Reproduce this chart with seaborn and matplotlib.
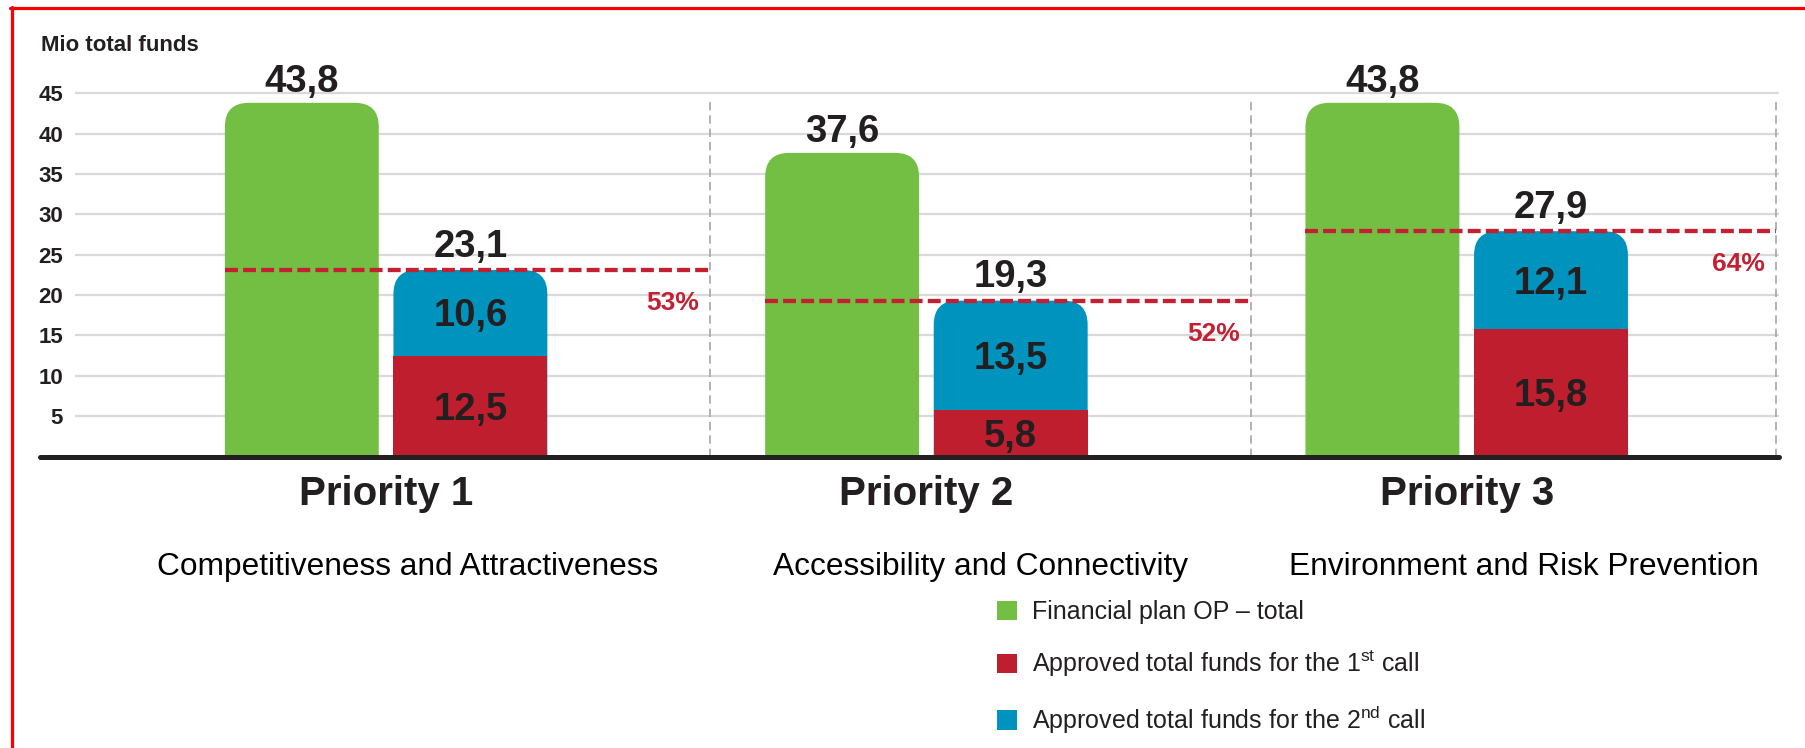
import matplotlib
matplotlib.use("Agg")
import numpy as np
import pandas as pd
import matplotlib.pyplot as plt
import seaborn as sns
from matplotlib.patches import FancyBboxPatch, Patch
from matplotlib.lines import Line2D
from matplotlib import font_manager as fm

# ---------------- data ----------------
PRIORITIES = ["Priority 1", "Priority 2", "Priority 3"]
SUBTITLES = ["Competitiveness and Attractiveness",
             "Accessibility and Connectivity",
             "Environment and Risk Prevention"]
PLAN_TOTAL = [43.8, 37.6, 43.8]
FIRST_CALL = [12.5, 5.8, 15.8]
SECOND_CALL = [10.6, 13.5, 12.1]
APPROVED_TOTAL = [23.1, 19.3, 27.9]
SHARE_LABELS = ["53%", "52%", "64%"]
Y_TICKS = [5, 10, 15, 20, 25, 30, 35, 40, 45]
Y_LABEL = "Mio total funds"
LEGEND_LABELS = ["Financial plan OP \u2013 total",
                 "Approved total funds for the 1$^{\\mathrm{st}}$ call",
                 "Approved total funds for the 2$^{\\mathrm{nd}}$ call"]

# ---------------- style ----------------
GREEN = "#72BF44"
RED = "#BE1E2D"
BLUE = "#0093BD"
TXT = "#231F20"
DASH_RED = "#C42032"
GRID = "#D9D9D9"
SEP = "#A6A6A6"

names = {f.name for f in fm.fontManager.ttflist}
if "Liberation Sans Narrow" in names:
    NARROW, NS = "Liberation Sans Narrow", 1.0
else:
    NARROW, NS = "Liberation Sans", 0.82
WIDE = "Liberation Sans" if "Liberation Sans" in names else "DejaVu Sans"

sns.set_theme(style="white")
plt.rcParams["font.family"] = [WIDE, "DejaVu Sans"]
plt.rcParams["mathtext.fontset"] = "custom"
plt.rcParams["mathtext.rm"] = NARROW
plt.rcParams["mathtext.it"] = NARROW
plt.rcParams["mathtext.bf"] = NARROW

W, H = 1805, 748
fig = plt.figure(figsize=(W / 100, H / 100), dpi=100)
fig.patch.set_facecolor("white")
ax = fig.add_axes([75 / W, (H - 456.5) / H, 1704 / W, 403.75 / H])
ax.set_facecolor("white")

df = pd.DataFrame({
    "priority": PRIORITIES * 2,
    "kind": ["plan"] * 3 + ["approved"] * 3,
    "value": PLAN_TOTAL + APPROVED_TOTAL,
})
sns.barplot(data=df, x="priority", y="value", hue="kind",
            hue_order=["plan", "approved"],
            palette={"plan": GREEN, "approved": BLUE},
            saturation=1, width=0.624, gap=0.087, errorbar=None,
            legend=False, ax=ax, zorder=2)

X_LEFT, X_RIGHT = -0.5758, 2.578
Y_TOP = 50
px_per_x = 1704 / (X_RIGHT - X_LEFT)
px_per_y = 403.75 / Y_TOP
RADIUS_PX = 24
r = RADIUS_PX / px_per_x
aspect = px_per_x / px_per_y

plan_bars = list(ax.containers[0])
appr_bars = list(ax.containers[1])
for bar in plan_bars + appr_bars:
    x, w, h = bar.get_x(), bar.get_width(), bar.get_height()
    fb = FancyBboxPatch((x, -5), w, h + 5,
                        boxstyle=f"round,pad=0,rounding_size={r}",
                        mutation_aspect=aspect, fc=bar.get_facecolor(),
                        ec="none", zorder=2)
    ax.add_patch(fb)
    bar.set_visible(False)

bw = appr_bars[0].get_width()
red_x = [b.get_x() + b.get_width() / 2 for b in appr_bars]
plan_x = [b.get_x() + b.get_width() / 2 for b in plan_bars]
ax.bar(red_x, FIRST_CALL, width=bw, color=RED, zorder=3, linewidth=0)

ax.set_xlim(X_LEFT, X_RIGHT)
ax.set_ylim(0, Y_TOP)
for s in ax.spines.values():
    s.set_visible(False)

# grid
ax.set_yticks(Y_TICKS)
ax.yaxis.grid(True, color=GRID, lw=1.6)
ax.xaxis.grid(False)
ax.set_axisbelow(True)
ax.tick_params(axis="y", length=0, pad=8.6, labelsize=19.5 * NS, labelcolor=TXT)
for t in ax.get_yticklabels():
    t.set_fontfamily(NARROW)
    t.set_fontweight("bold")
ax.tick_params(axis="x", length=0, pad=13.5, labelsize=29, labelcolor=TXT)
for t in ax.get_xticklabels():
    t.set_fontweight("bold")
ax.set_xlabel("")
ax.set_ylabel("")

# separators
sep_x = [0.6, 1.6, 2.572]
ax.vlines(sep_x, 0, 44.5, colors=SEP, linestyles=(0, (5, 3)), lw=1.2,
          zorder=1, clip_on=False)

# baseline
ax.axhline(0, xmin=-35 / 1704, xmax=1.0, color=TXT, lw=3.6, zorder=5,
           clip_on=False)

# dashed share lines and labels
for i in range(3):
    left = plan_bars[i].get_x()
    ax.hlines(APPROVED_TOTAL[i], left, sep_x[i], colors=DASH_RED, lw=3.1,
              linestyles=(0, (3.0, 1.2)), zorder=4)
    ax.annotate(SHARE_LABELS[i], xy=(sep_x[i], APPROVED_TOTAL[i]),
                xytext=(-8, -29), textcoords="offset points", ha="right",
                va="baseline", fontsize=19, fontweight="bold", color=DASH_RED,
                zorder=6)

def fmt(v):
    return f"{v:.1f}".replace(".", ",")

VFS = 27.5
for i in range(3):
    ax.annotate(fmt(PLAN_TOTAL[i]), xy=(plan_x[i], PLAN_TOTAL[i]),
                xytext=(0, 8), textcoords="offset points", ha="center",
                va="baseline", fontsize=VFS, fontweight="bold", color=TXT)
    ax.annotate(fmt(APPROVED_TOTAL[i]), xy=(red_x[i], APPROVED_TOTAL[i]),
                xytext=(0, 9.5), textcoords="offset points", ha="center",
                va="baseline", fontsize=VFS, fontweight="bold", color=TXT)
    mid_blue = FIRST_CALL[i] + SECOND_CALL[i] / 2
    ax.annotate(fmt(SECOND_CALL[i]), xy=(red_x[i], mid_blue),
                xytext=(0, -0.358 * VFS), textcoords="offset points",
                ha="center", va="baseline", fontsize=VFS, fontweight="bold",
                color=TXT, zorder=6)
    mid_red = FIRST_CALL[i] / 2
    ax.annotate(fmt(FIRST_CALL[i]), xy=(red_x[i], mid_red),
                xytext=(0, -0.358 * VFS), textcoords="offset points",
                ha="center", va="baseline", fontsize=VFS, fontweight="bold",
                color=TXT, zorder=6)

# subtitles
SUB_SHIFT = [0.04, 0.10, 0.105]
for i in range(3):
    ax.text(i + SUB_SHIFT[i], (456.5 - 575) / 403.75, SUBTITLES[i],
            transform=ax.get_xaxis_transform(), ha="center", va="baseline",
            fontsize=22.8, color="black", fontfamily=WIDE)

# y label
fig.text(41 / W, 1 - 51 / H, Y_LABEL, ha="left", va="baseline",
         fontsize=19.5 * NS, fontweight="bold", color=TXT, fontfamily=NARROW)

# legend
LFS = 18.0
handles = [Patch(fc=GREEN, ec="none"), Patch(fc=RED, ec="none"),
           Patch(fc=BLUE, ec="none")]
leg = fig.legend(handles, LEGEND_LABELS, loc="upper left",
                 bbox_to_anchor=(997 / W, 1 - 600 / H), frameon=False,
                 borderpad=0, borderaxespad=0, handlelength=0.80,
                 handleheight=0.82, handletextpad=0.62, labelspacing=0.98,
                 prop={"family": WIDE, "size": LFS})
for t in leg.get_texts():
    t.set_color(TXT)

# red frame (top and left)
fig.add_artist(Line2D([10 / W, 1], [1 - 7.5 / H, 1 - 7.5 / H],
                      transform=fig.transFigure, color="#FF0000", lw=2.3))
fig.add_artist(Line2D([11.5 / W, 11.5 / W], [0, 1 - 6.5 / H],
                      transform=fig.transFigure, color="#FF0000", lw=2.3))

fig.savefig("out.png", dpi=100, facecolor="white")
